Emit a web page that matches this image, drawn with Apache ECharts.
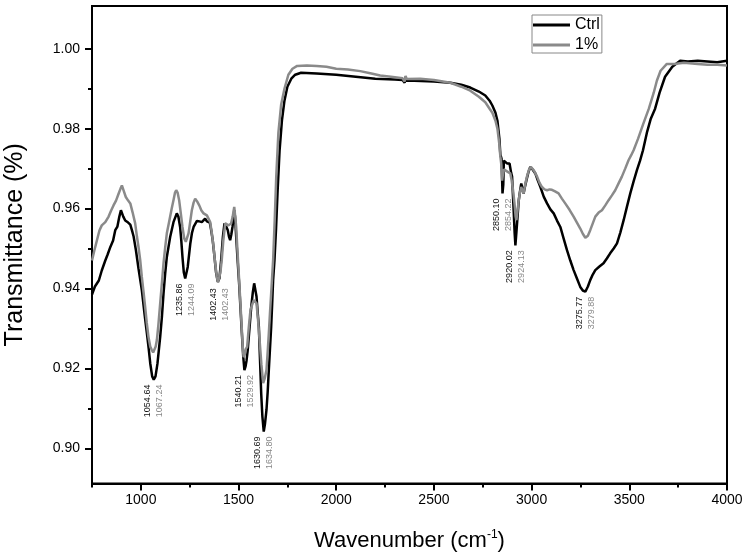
<!DOCTYPE html>
<html>
<head>
<meta charset="utf-8">
<script src="https://cdn.jsdelivr.net/npm/echarts@6/dist/echarts.min.js"></script>
<style>html,body{margin:0;padding:0;background:#fff}#c{width:748px;height:557px}</style>
</head>
<body>
<div id="c"></div>
<script>
// ---- data ----
const ctrlWave = [750,765,785,800,818,830,844,858,869,880,890,898,910,920,935,946,955,963,975,988,1005,1018,1031,1040,1048,1058,1066,1075,1085,1099,1108,1116,1125,1133,1150,1167,1184,1192,1201,1207,1213,1220,1227,1233,1240,1253,1262,1270,1287,1300,1312,1320,1329,1338,1346,1353,1360,1368,1377,1385,1394,1402,1411,1420,1428,1437,1445,1451,1457,1463,1469,1474,1478,1482,1486,1494,1503,1510,1517,1524,1530,1536,1541,1547,1556,1565,1573,1580,1585,1592,1598,1604,1610,1616,1622,1629,1635,1643,1649,1655,1661,1667,1672,1677,1684,1692,1700,1710,1722,1735,1750,1770,1790,1820,1900,2000,2100,2200,2300,2340,2350,2355,2360,2400,2500,2584,2640,2686,2730,2763,2785,2799,2815,2825,2835,2840,2846,2851,2855,2858,2866,2874,2887,2895,2900,2908,2913,2917,2922,2928,2934,2939,2947,2953,2959,2966,2973,2983,2993,3005,3019,3032,3045,3062,3079,3096,3113,3130,3147,3164,3181,3198,3215,3232,3249,3262,3275,3288,3300,3313,3326,3347,3368,3385,3402,3420,3437,3454,3471,3488,3505,3522,3539,3555,3570,3590,3610,3632,3655,3683,3720,3760,3800,3850,3900,3950,4000];
const ctrlT = [0.9385,0.9405,0.942,0.9445,0.947,0.9485,0.9504,0.952,0.9546,0.9555,0.958,0.9596,0.958,0.957,0.9565,0.956,0.9545,0.953,0.9495,0.945,0.9396,0.934,0.9288,0.925,0.9213,0.918,0.9172,0.918,0.9212,0.9279,0.933,0.9387,0.944,0.9479,0.9529,0.9566,0.9588,0.958,0.9554,0.952,0.9479,0.944,0.9425,0.943,0.9454,0.9512,0.954,0.9554,0.9569,0.9568,0.9566,0.957,0.9575,0.9568,0.9571,0.9565,0.9546,0.952,0.9479,0.944,0.9417,0.9425,0.9471,0.953,0.9563,0.9555,0.9546,0.953,0.9521,0.9535,0.9554,0.9575,0.9596,0.958,0.9546,0.948,0.9413,0.935,0.9288,0.923,0.9196,0.9205,0.922,0.9246,0.93,0.9354,0.939,0.9413,0.9415,0.938,0.934,0.9304,0.922,0.9137,0.908,0.9042,0.906,0.9096,0.914,0.9196,0.925,0.9304,0.936,0.9421,0.9471,0.955,0.9645,0.9745,0.982,0.987,0.9905,0.9925,0.9935,0.994,0.9938,0.9935,0.993,0.9925,0.9923,0.9922,0.9915,0.993,0.992,0.992,0.9918,0.9915,0.991,0.9903,0.9893,0.9883,0.987,0.9858,0.984,0.982,0.9775,0.9735,0.9725,0.9638,0.966,0.972,0.9718,0.9713,0.9713,0.969,0.968,0.9596,0.954,0.9508,0.954,0.958,0.962,0.9638,0.9663,0.965,0.9638,0.9655,0.967,0.969,0.9704,0.9698,0.9688,0.967,0.9654,0.963,0.9613,0.9598,0.9588,0.957,0.9554,0.9525,0.9496,0.947,0.9446,0.9425,0.9404,0.9395,0.9392,0.9405,0.9421,0.9435,0.9446,0.9455,0.9463,0.9475,0.9488,0.95,0.9513,0.954,0.9571,0.9605,0.9638,0.9668,0.9696,0.972,0.9746,0.979,0.9825,0.985,0.989,0.993,0.9955,0.997,0.9968,0.997,0.9968,0.9966,0.997];

const pctWave = [750,762,775,788,800,810,818,835,848,860,873,886,896,903,912,923,935,946,958,971,980,988,997,1005,1014,1022,1030,1039,1048,1056,1063,1070,1076,1082,1090,1099,1108,1116,1125,1133,1142,1150,1158,1167,1175,1181,1188,1196,1204,1213,1222,1230,1237,1244,1252,1261,1270,1278,1288,1299,1310,1321,1330,1338,1346,1355,1363,1372,1380,1389,1395,1401,1407,1414,1422,1432,1440,1449,1455,1462,1470,1478,1483,1488,1495,1503,1510,1517,1522,1526,1532,1537,1544,1552,1561,1570,1578,1585,1592,1600,1609,1617,1626,1634,1643,1649,1655,1661,1667,1672,1677,1685,1693,1704,1718,1735,1755,1776,1800,1850,1900,1950,2000,2060,2123,2180,2225,2280,2340,2350,2355,2360,2430,2500,2584,2640,2686,2730,2763,2785,2799,2815,2825,2835,2840,2845,2849,2853,2858,2865,2878,2891,2898,2905,2913,2918,2922,2928,2934,2940,2947,2953,2959,2967,2976,2987,2997,3012,3028,3040,3053,3066,3079,3092,3104,3120,3138,3155,3172,3194,3215,3232,3249,3262,3275,3288,3300,3313,3326,3343,3360,3377,3394,3411,3428,3445,3462,3479,3496,3509,3522,3545,3570,3600,3625,3641,3660,3692,3730,3780,3850,3900,3950,4000];
const pctT = [0.947,0.9495,0.952,0.9545,0.9558,0.9555,0.9566,0.958,0.9595,0.9608,0.962,0.9637,0.965,0.9658,0.9645,0.9629,0.962,0.9613,0.959,0.9563,0.953,0.9504,0.947,0.9429,0.939,0.9354,0.9315,0.9279,0.9255,0.9246,0.924,0.9242,0.9255,0.9271,0.931,0.9363,0.9415,0.9463,0.9505,0.9538,0.956,0.958,0.96,0.9621,0.964,0.9646,0.964,0.9621,0.959,0.9554,0.9525,0.9517,0.9522,0.9538,0.9565,0.9596,0.9615,0.9625,0.9618,0.9608,0.9595,0.9588,0.9585,0.9583,0.9578,0.9566,0.954,0.9504,0.9465,0.9429,0.9415,0.9413,0.944,0.9471,0.952,0.9563,0.956,0.9558,0.9556,0.9563,0.958,0.9604,0.958,0.9554,0.949,0.9421,0.936,0.9296,0.925,0.9228,0.9235,0.9248,0.9254,0.93,0.9346,0.936,0.9371,0.937,0.9363,0.932,0.9263,0.921,0.9163,0.9175,0.9196,0.924,0.9288,0.934,0.9388,0.943,0.9471,0.957,0.968,0.979,0.986,0.99,0.9935,0.995,0.9957,0.9958,0.9957,0.9955,0.995,0.9948,0.9944,0.9938,0.9933,0.993,0.9926,0.9918,0.9932,0.9924,0.9925,0.9922,0.9915,0.9905,0.9895,0.988,0.9866,0.985,0.984,0.982,0.98,0.976,0.973,0.971,0.967,0.9685,0.9698,0.9696,0.9692,0.9688,0.967,0.9646,0.961,0.958,0.9571,0.9595,0.9621,0.964,0.9654,0.9645,0.9638,0.966,0.968,0.9698,0.9704,0.9695,0.968,0.9665,0.9654,0.9648,0.9646,0.9648,0.9647,0.9643,0.9638,0.9625,0.9613,0.9597,0.958,0.9565,0.955,0.9537,0.9527,0.9532,0.9546,0.9563,0.958,0.959,0.9596,0.9608,0.9621,0.9633,0.9646,0.9663,0.968,0.97,0.9721,0.9733,0.9746,0.9775,0.981,0.985,0.989,0.992,0.9945,0.9962,0.9962,0.9965,0.9962,0.996,0.996,0.9958];

const peakCtrl = ['1054.64','1235.86','1402.43','1540.21','1630.69','2850.10','2920.02','3275.77'];
const peakPct  = ['1067.24','1244.09','1402.43','1529.92','1634.80','2854.22','2924.13','3279.88'];

const xMajor = [1000,1500,2000,2500,3000,3500,4000];
const xMinor = [750,1250,1750,2250,2750,3250,3750];
const yMajor = [0.90,0.92,0.94,0.96,0.98,1.00];
const yMinor = [0.91,0.93,0.95,0.97,0.99];
const seriesNames = ['Ctrl','1%'];

// ---- chart ----
const FONT = "'Liberation Sans', Arial, sans-serif";
const X_MIN = 750, X_MAX = 4000, Y_MIN = 0.8912, Y_MAX = 1.0107;
const zip = (a, b) => a.map((v, i) => [v, b[i]]);
const ctrlData = zip(ctrlWave, ctrlT);
const pctData = zip(pctWave, pctT);

const chart = echarts.init(document.getElementById('c'));
const axisBase = {type: 'value', gridIndex: 0, splitLine: {show: false}};
chart.setOption({
  animation: false,
  backgroundColor: '#fff',
  textStyle: {fontFamily: FONT},
  grid: {left: 92, right: 21, top: 6, bottom: 73.5, show: true, borderColor: '#000', borderWidth: 2,
    containLabel: false, outerBoundsMode: 'none'},
  legend: {
    left: 532, top: 15, orient: 'vertical',
    backgroundColor: '#fff', borderColor: '#888', borderWidth: 1,
    padding: [2, 2, 0, 1], itemGap: 4, itemWidth: 37, itemHeight: 3,
    textStyle: {fontFamily: FONT, fontSize: 16, color: '#000'},
    data: [{name: seriesNames[0], icon: 'rect'}, {name: seriesNames[1], icon: 'rect'}]
  },
  xAxis: [
    Object.assign({}, axisBase, {
      min: X_MIN, max: X_MAX, position: 'bottom',
      axisLine: {show: true, onZero: false, lineStyle: {color: '#000', width: 2}},
      axisTick: {show: true, customValues: xMajor, length: 7, lineStyle: {color: '#000', width: 2}},
      axisLabel: {show: true, customValues: xMajor, margin: 10, color: '#000', fontSize: 14, fontFamily: FONT,
        formatter: v => String(v)},
      name: 'Wavenumber (cm{sup|-1})', nameLocation: 'middle', nameGap: 45,
      nameTextStyle: {fontSize: 22, color: '#000', fontFamily: FONT,
        rich: {sup: {fontSize: 12, color: '#000', fontFamily: FONT, padding: [0, 0, 13, 0]}}}
    }),
    Object.assign({}, axisBase, {
      min: X_MIN, max: X_MAX, position: 'bottom', offset: 0,
      axisLine: {show: false, onZero: false},
      axisTick: {show: true, customValues: xMinor, length: 4, lineStyle: {color: '#000', width: 2}},
      axisLabel: {show: false}
    })
  ],
  yAxis: [
    Object.assign({}, axisBase, {
      min: Y_MIN, max: Y_MAX, position: 'left',
      axisLine: {show: true, onZero: false, lineStyle: {color: '#000', width: 2}},
      axisTick: {show: true, customValues: yMajor, length: 7, lineStyle: {color: '#000', width: 2}},
      axisLabel: {show: true, customValues: yMajor, margin: 12, color: '#000', fontSize: 14, fontFamily: FONT,
        formatter: v => v.toFixed(2)},
      name: 'Transmittance (%)', nameLocation: 'middle', nameGap: 64,
      nameTextStyle: {fontSize: 25, color: '#000', fontFamily: FONT}
    }),
    Object.assign({}, axisBase, {
      min: Y_MIN, max: Y_MAX, position: 'left', offset: 0,
      axisLine: {show: false, onZero: false},
      axisTick: {show: true, customValues: yMinor, length: 4, lineStyle: {color: '#000', width: 2}},
      axisLabel: {show: false}
    })
  ],
  series: [
    {name: seriesNames[0], type: 'line', xAxisIndex: 0, yAxisIndex: 0, data: ctrlData, symbol: 'none',
      lineStyle: {color: '#000', width: 2.5}, itemStyle: {color: '#000'}, z: 2},
    {name: seriesNames[1], type: 'line', xAxisIndex: 0, yAxisIndex: 0, data: pctData, symbol: 'none',
      lineStyle: {color: '#8a8a8a', width: 2.5}, itemStyle: {color: '#8a8a8a'}, z: 3}
  ]
});

// ---- peak annotations placed from the data dips through the chart's own scales ----
function dipNear(w) {
  let best = null;
  [ctrlData, pctData].forEach(d => d.forEach(p => {
    if (Math.abs(p[0] - w) <= 25 && (!best || p[1] < best[1])) best = p;
  }));
  return best;
}
const texts = [];
peakCtrl.forEach((lab, i) => {
  const dip = dipNear(parseFloat(lab));
  const px = chart.convertToPixel({xAxisIndex: 0, yAxisIndex: 0}, dip);
  const top = px[1] + 5;
  texts.push({type: 'text', x: px[0] - 6, y: top, rotation: Math.PI / 2, z: 10,
    style: {text: lab, fill: '#111', font: '9px ' + FONT, textAlign: 'right', textVerticalAlign: 'middle'}});
  texts.push({type: 'text', x: px[0] + 6, y: top, rotation: Math.PI / 2, z: 10,
    style: {text: peakPct[i], fill: '#888', font: '9px ' + FONT, textAlign: 'right', textVerticalAlign: 'middle'}});
});
chart.setOption({graphic: texts});
</script>
</body>
</html>
